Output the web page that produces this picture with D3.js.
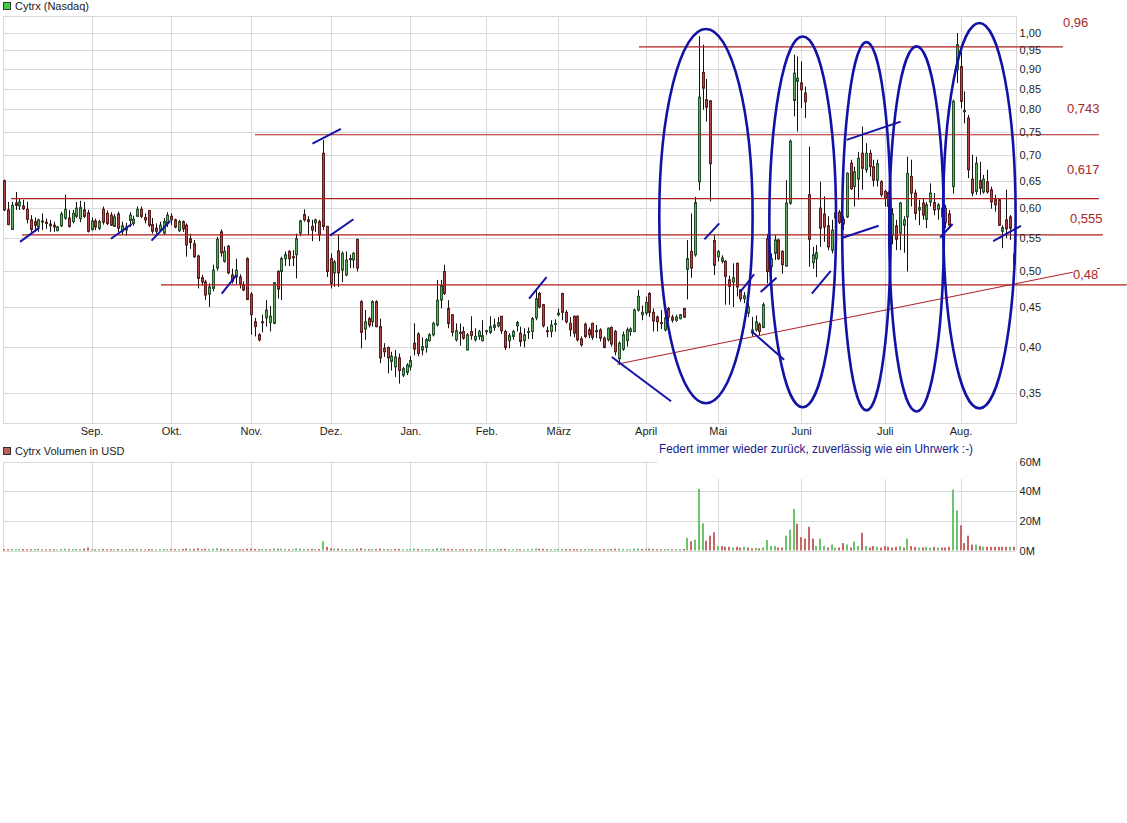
<!DOCTYPE html>
<html><head><meta charset="utf-8">
<script src="https://cdn.jsdelivr.net/npm/d3@7"></script>
<style>
body{margin:0;background:#fff}
svg{display:block}
text{font-family:"Liberation Sans",Arial,sans-serif}
</style>
</head><body>
<svg id="chart" width="1127" height="823"></svg>
<script>
// ---------- DATA ----------
const openP = [
0.650,0.597,0.564,0.609,0.604,0.604,0.598,0.580,0.577,0.568,
0.578,0.576,0.573,0.571,0.562,0.570,0.583,0.583,0.577,0.586,
0.582,0.597,0.592,0.564,0.578,0.566,0.598,0.591,0.588,0.569,
0.590,0.561,0.563,0.579,0.574,0.586,0.598,0.584,0.596,0.572,
0.566,0.563,0.558,0.574,0.586,0.580,0.562,0.577,0.571,0.549,
0.541,0.522,0.490,0.484,0.467,0.475,0.504,0.560,0.514,0.537,
0.494,0.491,0.491,0.480,0.518,0.467,0.431,0.415,0.431,0.436,
0.430,0.429,0.499,0.499,0.518,0.529,0.521,0.524,0.558,0.589,
0.580,0.569,0.575,0.577,0.704,0.569,0.518,0.497,0.530,0.501,
0.494,0.518,0.516,0.548,0.457,0.422,0.435,0.431,0.457,0.425,
0.399,0.400,0.384,0.378,0.388,0.369,0.372,0.378,0.405,0.416,
0.397,0.400,0.408,0.415,0.427,0.459,0.499,0.448,0.440,0.409,
0.418,0.419,0.397,0.419,0.409,0.413,0.408,0.419,0.418,0.424,
0.426,0.438,0.419,0.408,0.413,0.426,0.417,0.408,0.418,0.419,
0.436,0.468,0.453,0.420,0.419,0.428,0.440,0.468,0.443,0.429,
0.438,0.438,0.410,0.428,0.421,0.429,0.420,0.421,0.411,0.409,
0.424,0.419,0.387,0.398,0.408,0.419,0.419,0.446,0.440,0.442,
0.468,0.443,0.437,0.430,0.421,0.448,0.437,0.433,0.435,0.448,
0.502,0.529,0.524,0.648,0.891,0.823,0.820,0.546,0.521,0.514,
0.514,0.487,0.484,0.511,0.473,0.461,0.442,0.417,0.421,0.428,
0.424,0.549,0.506,0.526,0.547,0.529,0.507,0.609,0.821,0.868,
0.864,0.839,0.624,0.512,0.518,0.600,0.590,0.570,0.531,0.583,
0.593,0.581,0.585,0.684,0.639,0.653,0.704,0.671,0.704,0.677,
0.651,0.648,0.630,0.628,0.555,0.570,0.558,0.571,0.585,0.658,
0.627,0.597,0.609,0.581,0.611,0.610,0.598,0.585,0.600,0.590,
0.639,0.898,0.906,0.797,0.780,0.653,0.630,0.650,0.629,0.648,
0.633,0.615,0.615,0.561,0.580,0.585,0.510];
const highP = [
0.652,0.611,0.611,0.629,0.618,0.615,0.611,0.588,0.584,0.582,
0.591,0.582,0.580,0.577,0.570,0.594,0.624,0.597,0.597,0.611,
0.613,0.611,0.597,0.584,0.582,0.580,0.603,0.596,0.593,0.590,
0.594,0.577,0.575,0.593,0.587,0.603,0.603,0.591,0.597,0.583,
0.574,0.577,0.583,0.593,0.591,0.582,0.580,0.579,0.574,0.557,
0.547,0.524,0.494,0.487,0.482,0.509,0.552,0.564,0.537,0.539,
0.503,0.518,0.495,0.485,0.520,0.470,0.436,0.417,0.440,0.459,
0.451,0.484,0.501,0.521,0.529,0.531,0.531,0.557,0.580,0.598,
0.586,0.580,0.582,0.580,0.732,0.570,0.526,0.516,0.555,0.529,
0.529,0.524,0.528,0.549,0.459,0.446,0.437,0.459,0.459,0.435,
0.405,0.401,0.395,0.397,0.393,0.378,0.382,0.390,0.429,0.418,
0.412,0.411,0.417,0.431,0.487,0.487,0.509,0.459,0.440,0.429,
0.429,0.425,0.417,0.438,0.423,0.421,0.433,0.421,0.438,0.435,
0.437,0.438,0.421,0.417,0.421,0.432,0.425,0.423,0.424,0.437,
0.475,0.470,0.454,0.425,0.433,0.434,0.448,0.469,0.446,0.437,
0.439,0.439,0.413,0.430,0.424,0.430,0.427,0.423,0.413,0.424,
0.425,0.421,0.407,0.419,0.424,0.424,0.448,0.473,0.452,0.464,
0.470,0.448,0.439,0.446,0.446,0.450,0.440,0.440,0.441,0.449,
0.547,0.591,0.620,0.990,0.966,0.874,0.822,0.555,0.531,0.523,
0.516,0.493,0.511,0.512,0.474,0.470,0.455,0.437,0.439,0.430,
0.456,0.557,0.526,0.555,0.549,0.531,0.651,0.733,0.938,0.933,
0.920,0.855,0.718,0.536,0.539,0.648,0.621,0.586,0.580,0.597,
0.597,0.586,0.666,0.691,0.677,0.707,0.761,0.725,0.711,0.691,
0.691,0.651,0.633,0.630,0.600,0.580,0.611,0.586,0.697,0.691,
0.633,0.615,0.618,0.611,0.645,0.627,0.609,0.606,0.606,0.597,
0.823,0.999,0.947,0.843,0.787,0.701,0.697,0.687,0.661,0.671,
0.639,0.624,0.617,0.571,0.633,0.588,0.549];
const lowP = [
0.595,0.571,0.563,0.597,0.597,0.597,0.574,0.560,0.560,0.560,
0.563,0.565,0.560,0.560,0.561,0.568,0.580,0.567,0.574,0.583,
0.576,0.583,0.559,0.562,0.563,0.563,0.572,0.571,0.570,0.568,
0.560,0.555,0.554,0.568,0.570,0.585,0.583,0.574,0.568,0.557,
0.557,0.560,0.555,0.568,0.571,0.566,0.560,0.560,0.521,0.533,
0.519,0.475,0.479,0.459,0.450,0.471,0.500,0.521,0.512,0.495,
0.482,0.481,0.475,0.471,0.459,0.415,0.413,0.407,0.418,0.425,
0.419,0.428,0.461,0.459,0.507,0.507,0.507,0.489,0.553,0.577,
0.555,0.545,0.560,0.545,0.563,0.491,0.475,0.477,0.477,0.484,
0.492,0.504,0.504,0.499,0.399,0.409,0.424,0.425,0.424,0.382,
0.389,0.371,0.374,0.367,0.360,0.367,0.369,0.374,0.391,0.390,
0.391,0.394,0.407,0.413,0.425,0.448,0.466,0.423,0.413,0.407,
0.402,0.409,0.397,0.409,0.407,0.409,0.407,0.415,0.416,0.420,
0.424,0.416,0.397,0.399,0.409,0.419,0.401,0.400,0.410,0.410,
0.433,0.448,0.424,0.412,0.412,0.419,0.438,0.433,0.429,0.413,
0.412,0.407,0.401,0.411,0.411,0.409,0.411,0.407,0.399,0.407,
0.401,0.391,0.380,0.396,0.401,0.414,0.418,0.444,0.433,0.439,
0.437,0.419,0.419,0.422,0.419,0.431,0.430,0.431,0.434,0.436,
0.460,0.490,0.521,0.632,0.799,0.772,0.612,0.494,0.514,0.511,
0.453,0.453,0.450,0.464,0.457,0.455,0.437,0.413,0.419,0.414,
0.423,0.482,0.496,0.516,0.516,0.496,0.506,0.606,0.784,0.750,
0.803,0.780,0.506,0.503,0.491,0.536,0.544,0.531,0.526,0.575,
0.573,0.563,0.583,0.633,0.603,0.615,0.633,0.665,0.658,0.639,
0.639,0.620,0.603,0.563,0.540,0.531,0.531,0.527,0.499,0.603,
0.580,0.571,0.580,0.566,0.603,0.588,0.580,0.575,0.566,0.566,
0.626,0.864,0.803,0.768,0.655,0.621,0.624,0.624,0.626,0.626,
0.599,0.594,0.570,0.534,0.550,0.547,0.506];
const closeP = [
0.597,0.572,0.605,0.605,0.611,0.599,0.581,0.564,0.571,0.580,
0.577,0.574,0.570,0.568,0.568,0.590,0.598,0.569,0.591,0.600,
0.601,0.586,0.561,0.578,0.568,0.577,0.576,0.574,0.571,0.585,
0.566,0.570,0.568,0.588,0.581,0.598,0.586,0.580,0.571,0.561,
0.561,0.571,0.577,0.588,0.580,0.568,0.577,0.565,0.539,0.543,
0.521,0.489,0.484,0.466,0.477,0.501,0.548,0.527,0.529,0.497,
0.485,0.501,0.481,0.473,0.460,0.440,0.425,0.409,0.430,0.446,
0.438,0.483,0.474,0.518,0.524,0.518,0.520,0.549,0.578,0.580,
0.577,0.563,0.580,0.555,0.569,0.499,0.482,0.513,0.497,0.526,
0.516,0.517,0.526,0.504,0.418,0.431,0.427,0.457,0.425,0.388,
0.395,0.388,0.390,0.389,0.374,0.376,0.380,0.385,0.398,0.393,
0.401,0.409,0.415,0.429,0.459,0.479,0.468,0.429,0.418,0.420,
0.417,0.411,0.415,0.414,0.413,0.419,0.414,0.420,0.425,0.427,
0.430,0.420,0.400,0.414,0.419,0.430,0.407,0.415,0.419,0.435,
0.461,0.450,0.426,0.419,0.427,0.429,0.442,0.443,0.431,0.421,
0.417,0.409,0.403,0.413,0.415,0.412,0.419,0.411,0.400,0.423,
0.404,0.395,0.405,0.415,0.421,0.422,0.446,0.464,0.443,0.456,
0.443,0.432,0.431,0.429,0.436,0.437,0.433,0.437,0.440,0.437,
0.518,0.504,0.610,0.829,0.851,0.805,0.683,0.508,0.529,0.519,
0.492,0.478,0.490,0.477,0.461,0.465,0.450,0.421,0.431,0.419,
0.453,0.499,0.518,0.547,0.518,0.509,0.609,0.729,0.889,0.876,
0.847,0.818,0.548,0.524,0.527,0.566,0.568,0.536,0.563,0.592,
0.576,0.573,0.664,0.635,0.667,0.694,0.674,0.704,0.677,0.651,
0.683,0.624,0.618,0.603,0.590,0.548,0.609,0.580,0.664,0.627,
0.591,0.601,0.588,0.606,0.627,0.597,0.606,0.600,0.575,0.571,
0.819,0.966,0.819,0.795,0.671,0.627,0.684,0.636,0.653,0.629,
0.611,0.606,0.571,0.567,0.565,0.566,0.525];
const volumeM = [
1.0,0.9,1.1,0.8,0.9,1.0,0.8,0.9,1.0,1.1,
0.8,0.7,0.8,0.9,0.7,1.0,1.2,0.9,1.0,1.1,
1.0,1.3,2.0,0.9,0.8,0.9,1.0,0.8,0.9,0.8,
1.0,0.9,0.8,1.0,0.9,1.1,0.8,0.7,1.0,0.9,
0.8,0.9,1.0,0.9,1.0,0.9,0.8,1.0,1.4,1.0,
1.1,1.5,0.9,1.2,1.0,1.3,1.6,1.2,1.0,1.1,
0.9,1.0,0.9,0.8,1.3,1.2,1.0,0.9,1.0,1.1,
0.9,1.4,1.2,1.3,1.0,0.9,0.8,1.5,1.3,1.0,
0.9,1.1,0.9,1.0,6.2,2.5,1.5,1.2,1.3,1.0,
0.9,0.8,0.9,1.2,1.5,1.0,0.9,1.1,1.0,1.3,
1.0,0.9,0.8,1.0,1.1,0.8,0.9,1.0,1.4,1.1,
0.9,1.0,0.9,1.0,1.6,1.3,1.2,1.1,1.0,0.9,
0.8,0.9,1.0,0.9,0.8,0.9,1.0,0.8,0.9,1.0,
0.9,1.0,1.1,0.9,0.8,1.0,0.9,0.8,0.9,1.1,
1.4,1.2,1.1,0.9,0.8,0.9,1.0,1.1,1.0,0.9,
1.0,0.9,0.8,1.0,0.9,1.0,0.8,0.9,1.0,0.9,
1.0,1.2,1.3,1.0,0.9,0.8,1.2,1.4,1.0,1.1,
1.2,1.0,0.9,0.8,0.9,1.0,0.8,0.9,1.0,1.1,
8.5,6.2,7.3,41.6,18.3,6.6,10.0,12.3,3.0,3.0,
2.5,2.5,2.0,2.5,2.0,2.5,2.0,1.5,1.8,1.5,
2.0,7.0,3.0,3.0,2.0,2.0,10.0,14.0,28.0,18.0,
9.0,8.0,16.0,8.0,3.0,8.0,3.0,2.0,4.0,2.0,
2.0,5.0,4.0,2.0,6.0,3.0,12.0,3.0,2.0,3.0,
2.5,2.0,3.0,2.5,2.0,2.5,3.0,2.0,8.0,3.0,
2.5,2.0,2.0,2.5,2.0,2.5,2.0,2.0,2.0,2.5,
41.0,27.0,17.0,5.0,10.0,4.0,4.0,3.0,2.5,2.5,
2.5,2.5,2.5,2.5,2.5,2.5,2.5];

const monthLabels = ["Sep.","Okt.","Nov.","Dez.","Jan.","Feb.","März","April","Mai","Juni","Juli","Aug."];
const monthIdx    = [23,44,65,86,107,127,146,169,188,210,232,252];
const priceTicks  = [0.35,0.40,0.45,0.50,0.55,0.60,0.65,0.70,0.75,0.80,0.85,0.90,0.95,1.00];
const volumeTicks = [0,20,40,60];

// horizontal support / resistance levels
const levelValues = [0.96,0.743,0.617,0.555,0.48];
const levelLabels = ["0,96","0,743","0,617","0,555","0,48"];
const levelStart  = [167.25,66.06,1.77,4.66,41.3];
const levelEnd    = [278.97,288.46,288.46,289.5,295.8];
// rising trend line
const trendIdx   = [161.5,281.6];
const trendPrice = [0.381,0.498];
// ellipses (index span, price span)
const ellLeft   = [172.6,201.6,220.8,233.2,247.4];
const ellRight  = [197.2,219.2,233.6,247.6,266.5];
const ellTop    = [1.011,0.989,0.973,0.961,1.029];
const ellBottom = [0.340,0.336,0.333,0.332,0.335];
// short blue strokes
const segIdx1 = [4.14,28.1,38.8,57.3,81.2,85.8,138.3,160.1,184.5,193.9,197.0,199.3,212.8,220.7,222.0,246.6,260.6];
const segP1   = [0.544,0.549,0.546,0.468,0.724,0.554,0.461,0.389,0.548,0.470,0.419,0.470,0.468,0.550,0.732,0.551,0.545];
const segIdx2 = [9.22,33.6,43.7,61.2,88.7,92.0,142.9,175.7,188.4,197.6,205.5,203.5,217.8,230.4,236.2,249.9,267.9];
const segP2   = [0.567,0.573,0.578,0.494,0.756,0.581,0.491,0.342,0.574,0.495,0.386,0.490,0.500,0.570,0.772,0.573,0.570];

// ---------- DRAW ----------
const svg = d3.select("#chart");
const P = {l:3, r:1015.6, t:16, b:423};
const V = {t:461.5, b:550.5};
const x  = d3.scaleLinear().domain([-0.343,266.5]).range([P.l,P.r]);
const y  = d3.scaleLog().domain([0.321,1.05]).range([P.b,P.t]);
const yv = d3.scaleLinear().domain([0,60]).range([V.b,V.t]);
const de = d3.formatLocale({decimal:",",thousands:".",grouping:[3],currency:["","€"]});
const fmt = de.format(".2f");
const GRID = "#d9d9d9";
const RED = "#b01e1e";
const BLUE = "#1212a6";
const crisp = v => Math.round(v)+0.5;

const data = openP.map((o,i)=>({i,o,h:highP[i],l:lowP[i],c:closeP[i],v:volumeM[i]}));

// price panel grid
const gP = svg.append("g");
gP.selectAll("line.h").data(priceTicks).join("line")
  .attr("x1",P.l).attr("x2",P.r).attr("y1",d=>crisp(y(d))).attr("y2",d=>crisp(y(d)))
  .attr("stroke",GRID);
gP.selectAll("line.v").data(monthIdx).join("line")
  .attr("x1",d=>crisp(x(d))).attr("x2",d=>crisp(x(d))).attr("y1",P.t).attr("y2",P.b)
  .attr("stroke",GRID);
gP.append("rect").attr("x",crisp(P.l)).attr("y",crisp(P.t)).attr("width",Math.round(P.r-P.l)).attr("height",Math.round(P.b-P.t))
  .attr("fill","none").attr("stroke",GRID);

// volume panel grid
const gV = svg.append("g");
gV.selectAll("line.h").data(volumeTicks).join("line")
  .attr("x1",P.l).attr("x2",P.r).attr("y1",d=>crisp(yv(d))).attr("y2",d=>crisp(yv(d)))
  .attr("stroke",GRID);
gV.selectAll("line.v").data(monthIdx).join("line")
  .attr("x1",d=>crisp(x(d))).attr("x2",d=>crisp(x(d))).attr("y1",V.t).attr("y2",V.b)
  .attr("stroke",GRID);
[P.l,P.r].forEach(xx=>gV.append("line").attr("x1",crisp(xx)).attr("x2",crisp(xx)).attr("y1",V.t).attr("y2",V.b).attr("stroke",GRID));

// volume bars
gV.selectAll("rect.vol").data(data).join("rect")
  .attr("x",d=>Math.round(x(d.i))-1).attr("width",2)
  .attr("y",d=>yv(d.v)).attr("height",d=>yv(0)-yv(d.v))
  .attr("fill",(d,i)=>{const prev=i?closeP[i-1]:d.o; return d.c>=prev?"#6cc46c":"#c86666";});

// candles
const gC = svg.append("g");
gC.selectAll("line.w").data(data).join("line")
  .attr("x1",d=>crisp(x(d.i))).attr("x2",d=>crisp(x(d.i)))
  .attr("y1",d=>y(d.h)).attr("y2",d=>y(d.l)).attr("stroke","#111").attr("stroke-width",1);
gC.selectAll("rect.b").data(data).join("rect")
  .attr("x",d=>Math.round(x(d.i))-0.5).attr("width",2)
  .attr("y",d=>y(Math.max(d.o,d.c))).attr("height",d=>Math.max(1,Math.abs(y(d.o)-y(d.c))))
  .attr("fill",d=>d.c>=d.o?"#5fae5f":"#b04848")
  .attr("stroke",d=>d.c>=d.o?"#24502a":"#5a1e1e").attr("stroke-width",1);

// red levels
const gL = svg.append("g");
gL.selectAll("line.lv").data(levelValues).join("line")
  .attr("x1",(d,i)=>x(levelStart[i])).attr("x2",(d,i)=>x(levelEnd[i]))
  .attr("y1",d=>y(d)).attr("y2",d=>y(d)).attr("stroke",RED).attr("stroke-width",1.2);
gL.append("line").attr("x1",x(trendIdx[0])).attr("y1",y(trendPrice[0]))
  .attr("x2",x(trendIdx[1])).attr("y2",y(trendPrice[1])).attr("stroke",RED).attr("stroke-width",1);
const labelPos = [[1063,27],[1067,113],[1067,174],[1070,223],[1073,279]];
gL.selectAll("text.lv").data(levelLabels).join("text")
  .attr("x",(d,i)=>labelPos[i][0]).attr("y",(d,i)=>labelPos[i][1])
  .attr("font-size",13).attr("fill","#a82828").text(d=>d);
gL.append("line").attr("x1",1097).attr("x2",1100).attr("y1",268.5).attr("y2",268.5).attr("stroke","#a82828");

// ellipses
const gE = svg.append("g");
gE.selectAll("ellipse").data(ellLeft).join("ellipse")
  .attr("cx",(d,i)=>(x(d)+x(ellRight[i]))/2)
  .attr("cy",(d,i)=>(y(ellTop[i])+y(ellBottom[i]))/2)
  .attr("rx",(d,i)=>(x(ellRight[i])-x(d))/2)
  .attr("ry",(d,i)=>(y(ellBottom[i])-y(ellTop[i]))/2)
  .attr("fill","none").attr("stroke",BLUE).attr("stroke-width",2.6);
gE.selectAll("line.seg").data(segIdx1).join("line")
  .attr("x1",d=>x(d)).attr("y1",(d,i)=>y(segP1[i]))
  .attr("x2",(d,i)=>x(segIdx2[i])).attr("y2",(d,i)=>y(segP2[i]))
  .attr("stroke",BLUE).attr("stroke-width",2);

// axes
const axP = svg.append("g").attr("transform",`translate(${P.r},0)`)
  .call(d3.axisRight(y).tickValues(priceTicks).tickFormat(fmt).tickSize(0).tickPadding(4));
const axV = svg.append("g").attr("transform",`translate(${P.r},0)`)
  .call(d3.axisRight(yv).tickValues(volumeTicks).tickFormat(d=>d+"M").tickSize(0).tickPadding(4));
const axM = svg.append("g").attr("transform",`translate(0,${P.b})`)
  .call(d3.axisBottom(x).tickValues(monthIdx).tickFormat((d,i)=>monthLabels[i]).tickSize(0).tickPadding(4));
[axP,axV,axM].forEach(a=>{
  a.select(".domain").remove();
  a.selectAll("text").attr("font-size",11).attr("fill","#222").attr("font-family","'Liberation Sans',Arial,sans-serif");
});

// legends
svg.append("rect").attr("x",3.5).attr("y",2.5).attr("width",7).attr("height",7)
  .attr("fill","#3fcf3f").attr("stroke","#333");
svg.append("text").attr("x",15).attr("y",10).attr("font-size",11).attr("fill","#222").text("Cytrx (Nasdaq)");
svg.append("rect").attr("x",3.5).attr("y",447.5).attr("width",7).attr("height",7)
  .attr("fill","#c0605a").attr("stroke","#333");
svg.append("text").attr("x",15).attr("y",455).attr("font-size",11).attr("fill","#222").text("Cytrx Volumen in USD");

// annotation box & text
svg.append("rect").attr("x",657).attr("y",440).attr("width",358).attr("height",39).attr("fill","#fff");
svg.append("text").attr("x",659).attr("y",453).attr("font-size",12).attr("fill","#1a1a8c")
  .attr("textLength",314).attr("lengthAdjust","spacingAndGlyphs")
  .text("Federt immer wieder zurück, zuverlässig wie ein Uhrwerk :-)");
</script>
</body></html>
